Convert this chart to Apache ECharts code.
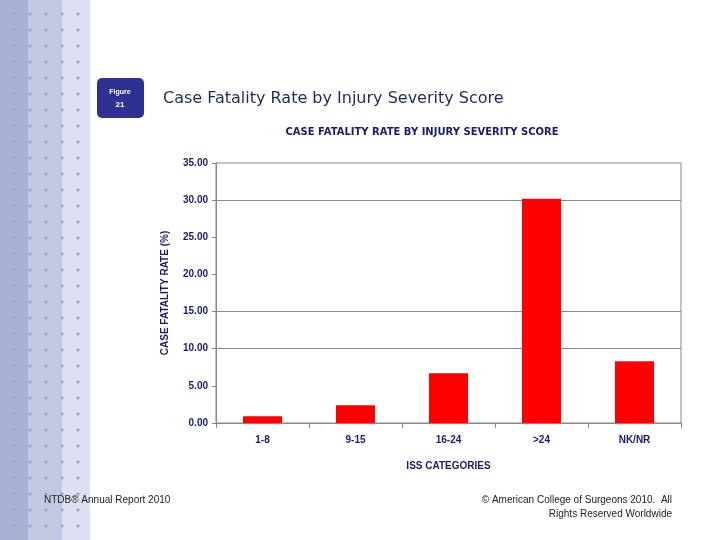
<!DOCTYPE html>
<html><head><meta charset="utf-8">
<script src="https://cdn.jsdelivr.net/npm/echarts@6/dist/echarts.min.js"></script>
<style>
html,body{margin:0;padding:0;background:#fff;}
#stripe{position:absolute;left:0;top:0;width:90px;height:540px;
 background:
  radial-gradient(circle,#a0a6cc 1.4px,transparent 1.8px) 6px 6px/16px 16px,
  linear-gradient(to right,#aab0d4 0,#aab0d4 28px,#c3c8e2 28px,#c3c8e2 62px,#dde0f0 62px,#dde0f0 90px);}
#c{position:absolute;left:0;top:0;width:720px;height:540px;}
</style></head>
<body>
<div id="stripe"></div>
<div id="c"></div>
<script>
var categories = ['1-8', '9-15', '16-24', '>24', 'NK/NR'];
var rates = [0.9, 2.4, 6.7, 30.2, 8.3];
var gridLevels = [30, 15, 10];

var chart = echarts.init(document.getElementById('c'));
chart.setOption({
  backgroundColor: 'transparent',
  graphic: [
    {type: 'rect', shape: {x: 97, y: 78, width: 47, height: 40, r: 5}, style: {fill: '#2e3192'}},
    {type: 'text', style: {x: 120, y: 92, text: 'Figure', fill: '#fff', font: 'bold 7px sans-serif', align: 'center', verticalAlign: 'middle'}},
    {type: 'text', style: {x: 120, y: 105, text: '21', fill: '#fff', font: 'bold 8px sans-serif', align: 'center', verticalAlign: 'middle'}},
    {type: 'text', style: {x: 163, y: 99, text: 'Case Fatality Rate by Injury Severity Score', fill: '#1f2a5c', font: '16px "DejaVu Sans"', verticalAlign: 'middle'}},
    {type: 'text', style: {x: 44, y: 500, text: 'NTDB® Annual Report 2010', fill: '#222', font: '10px "Liberation Sans"', verticalAlign: 'middle'}},
    {type: 'text', style: {x: 672, y: 500, text: '© American College of Surgeons 2010.  All', fill: '#222', font: '10px "Liberation Sans"', align: 'right', verticalAlign: 'middle'}},
    {type: 'text', style: {x: 672, y: 514, text: 'Rights Reserved Worldwide', fill: '#222', font: '10px "Liberation Sans"', align: 'right', verticalAlign: 'middle'}}
  ],
  title: {
    text: 'CASE FATALITY RATE BY INJURY SEVERITY SCORE',
    left: 417, top: 122, textAlign: 'center',
    textStyle: {color: '#1a1a6e', fontSize: 10, fontWeight: 'bold', fontFamily: 'DejaVu Sans'}
  },
  grid: {left: 216, right: 39, top: 163, bottom: 117, show: true, borderColor: '#888', borderWidth: 1},
  xAxis: {
    type: 'category', data: categories,
    name: 'ISS CATEGORIES', nameLocation: 'middle', nameGap: 38,
    nameTextStyle: {color: '#1a1a6e', fontSize: 10, fontWeight: 'bold'},
    axisLine: {lineStyle: {color: '#888'}},
    axisTick: {show: true, lineStyle: {color: '#888'}},
    axisLabel: {color: '#1a1a6e', fontSize: 10, fontWeight: 'bold', margin: 12}
  },
  yAxis: {
    type: 'value', min: 0, max: 35, interval: 5,
    name: 'CASE FATALITY RATE (%)', nameLocation: 'middle', nameGap: 46,
    nameTextStyle: {color: '#1a1a6e', fontSize: 10, fontWeight: 'bold'},
    axisLine: {show: true, lineStyle: {color: '#888'}},
    axisTick: {show: true, length: 4, lineStyle: {color: '#888'}},
    splitLine: {show: false},
    axisLabel: {color: '#1a1a6e', fontSize: 10, fontWeight: 'bold', formatter: function (v) { return v.toFixed(2); }}
  },
  series: [{
    type: 'line', data: [], z: 1, silent: true,
    markLine: {
      silent: true, symbol: 'none', label: {show: false},
      lineStyle: {color: '#888', type: 'solid', width: 1},
      data: gridLevels.map(function (v) { return {yAxis: v}; })
    }
  }, {
    type: 'bar', data: rates, barWidth: '42%',
    itemStyle: {color: '#ff0000'},
    silent: true, z: 5
  }]
});
</script>
</body></html>
